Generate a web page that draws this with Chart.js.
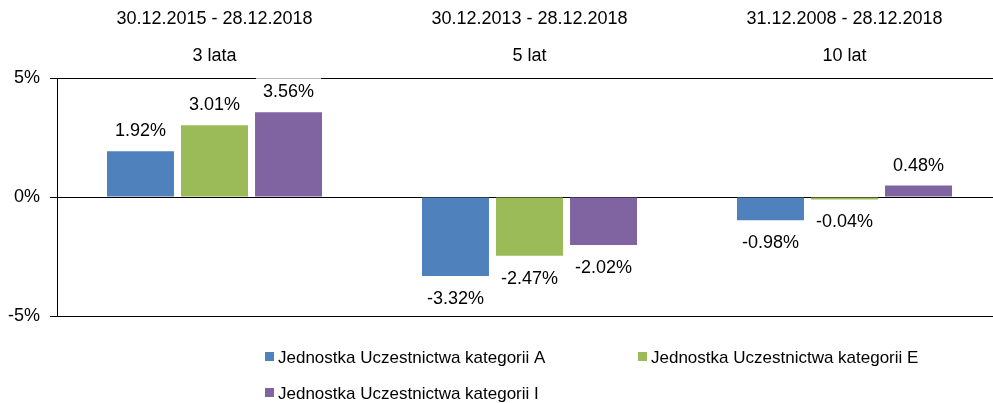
<!DOCTYPE html>
<html>
<head>
<meta charset="utf-8">
<script src="https://cdn.jsdelivr.net/npm/chart.js@4/dist/chart.umd.min.js"></script>
<style>
  html, body { margin: 0; padding: 0; background: #fff; overflow: hidden; }
  #wrap { width: 993px; height: 403px; overflow: hidden; }
</style>
</head>
<body>
<div id="wrap"><canvas id="c" width="1002" height="403"></canvas></div>
<script>
// Periods (top labels: date range + horizon)
const periods = ['30.12.2015 - 28.12.2018', '30.12.2013 - 28.12.2018', '31.12.2008 - 28.12.2018'];
const horizons = ['3 lata', '5 lat', '10 lat'];

// Returns per unit category, in %
const seriesNames = [
  'Jednostka Uczestnictwa kategorii A',
  'Jednostka Uczestnictwa kategorii E',
  'Jednostka Uczestnictwa kategorii I'
];
const returnsA = [1.92, -3.32, -0.98];
const returnsE = [3.01, -2.47, -0.04];
const returnsI = [3.56, -2.02, 0.48];

const yTicks = [-5, 0, 5];

const colors = ['#4F81BD', '#9BBB59', '#8064A2'];
const FONT = '"Liberation Sans", Arial, sans-serif';

// Value labels on a white box, placed just beyond the bar end
const valueLabels = {
  id: 'valueLabels',
  afterDatasetsDraw(chart) {
    const ctx = chart.ctx;
    ctx.save();
    ctx.font = '18px ' + FONT;
    ctx.textAlign = 'center';
    ctx.textBaseline = 'middle';
    chart.data.datasets.forEach((ds, di) => {
      const meta = chart.getDatasetMeta(di);
      meta.data.forEach((bar, i) => {
        const v = ds.data[i];
        const txt = v.toFixed(2) + '%';
        const y = v >= 0 ? bar.y - 21 : bar.y + 22;
        const w = ctx.measureText(txt).width + 14;
        const h = 26;
        ctx.fillStyle = '#fff';
        ctx.fillRect(bar.x - w / 2, y - h / 2, w, h);
        ctx.fillStyle = '#000';
        ctx.fillText(txt, bar.x, y + 1);
      });
    });
    ctx.restore();
  }
};

// Two-column legend under the plot
const gridLegend = {
  id: 'gridLegend',
  afterDraw(chart) {
    const ctx = chart.ctx;
    const cols = [265, 638];
    const rows = [357, 393];
    ctx.save();
    ctx.font = '17px ' + FONT;
    ctx.textAlign = 'left';
    ctx.textBaseline = 'middle';
    chart.data.datasets.forEach((ds, i) => {
      const x = cols[i % 2];
      const y = rows[Math.floor(i / 2)];
      ctx.fillStyle = ds.backgroundColor;
      ctx.fillRect(x, y - 5, 9, 9);
      ctx.fillStyle = '#000';
      ctx.fillText(ds.label, x + 13, y + 1);
    });
    ctx.restore();
  }
};

new Chart(document.getElementById('c'), {
  type: 'bar',
  data: {
    labels: periods.map((p, i) => [p, horizons[i]]),
    datasets: [
      { label: seriesNames[0], data: returnsA, backgroundColor: colors[0] },
      { label: seriesNames[1], data: returnsE, backgroundColor: colors[1] },
      { label: seriesNames[2], data: returnsI, backgroundColor: colors[2] }
    ]
  },
  options: {
    responsive: false,
    animation: false,
    devicePixelRatio: 1,
    layout: { padding: { left: 0, right: 0, top: 0, bottom: 87 } },
    datasets: { bar: { categoryPercentage: 0.705, barPercentage: 0.905, minBarLength: 2.5 } },
    plugins: {
      legend: { display: false },
      tooltip: { enabled: false }
    },
    scales: {
      x: {
        position: 'top',
        grid: { display: false, drawTicks: false },
        border: { display: false },
        ticks: {
          color: '#000',
          padding: 3,
          maxRotation: 0,
          font: { family: FONT, size: 18, lineHeight: 37 / 18 }
        },
        afterFit(axis) { axis.height = 78; }
      },
      y: {
        min: -5,
        max: 5,
        afterBuildTicks(axis) { axis.ticks = yTicks.map(v => ({ value: v })); },
        grid: { color: '#000', lineWidth: 1, tickLength: 7, drawTicks: true },
        border: { display: true, color: '#000', width: 1 },
        ticks: {
          color: '#000',
          padding: 10,
          font: { family: FONT, size: 18 },
          callback: v => v + '%'
        },
        afterFit(axis) { axis.width = 57; }
      }
    }
  },
  plugins: [valueLabels, gridLegend]
});
</script>
</body>
</html>
